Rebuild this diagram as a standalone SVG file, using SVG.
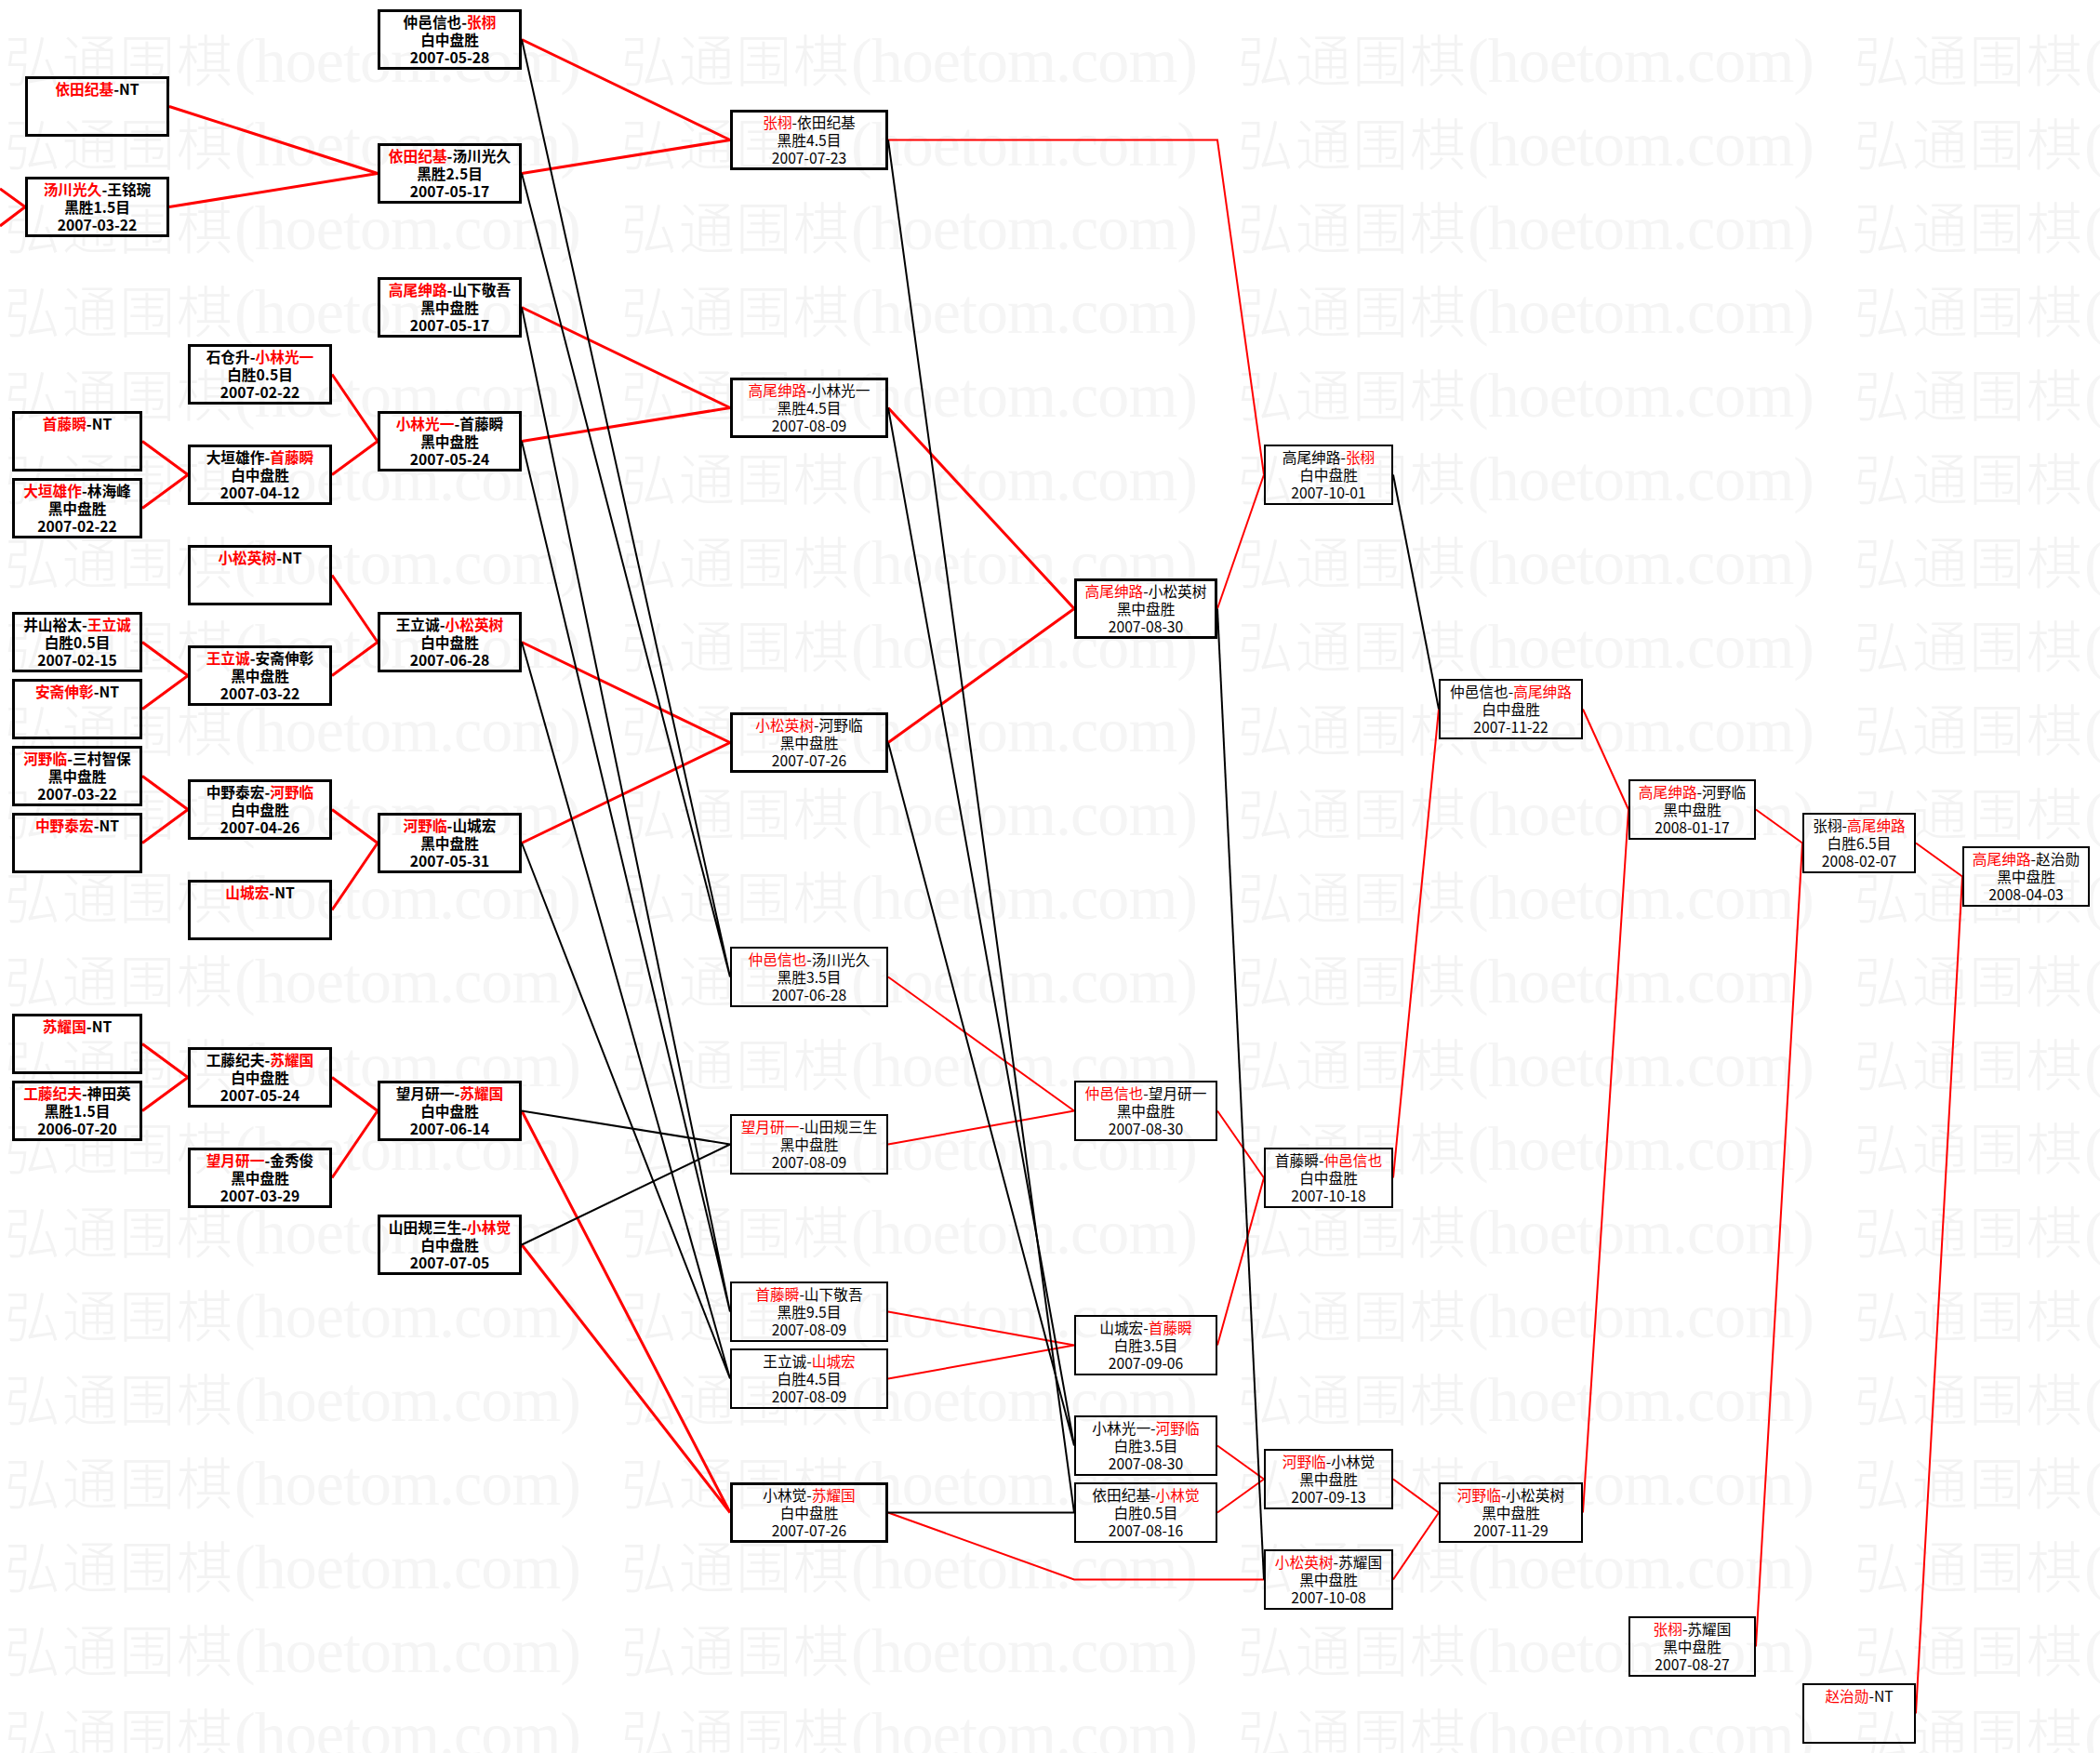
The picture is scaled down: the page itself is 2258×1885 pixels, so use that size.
<svg xmlns="http://www.w3.org/2000/svg" width="2258" height="1885" viewBox="0 0 2258 1885">
<defs>
<style>
.n rect{fill:none;stroke:#000}
.k3{stroke-width:3}
.k2{stroke-width:2}
.n text{font-family:"Noto Sans CJK SC","Noto Sans",sans-serif;font-size:15.7px;text-anchor:middle;fill:#000}
.bd text{font-weight:bold}
.r{fill:#ff0000}
.c path{fill:none;stroke-linejoin:miter}
.cr3{stroke:#ff0000;stroke-width:3}
.cr2{stroke:#ff0000;stroke-width:2}
.cb2{stroke:#000;stroke-width:2}
.wm{fill:#f3f3f3}
.wa{fill:#f5f5f5}
</style>
<pattern id="wmp" patternUnits="userSpaceOnUse" x="5" y="28" width="663" height="90">
<text class="wm" x="0" y="60" font-family="'Noto Sans CJK SC',sans-serif" font-weight="300" font-size="60" textLength="245" lengthAdjust="spacing">弘通围棋</text>
<text class="wa" x="247" y="60" font-family="'Liberation Serif',serif" font-size="68" textLength="373" lengthAdjust="spacing">(hoetom.com)</text>
</pattern>
</defs>
<rect x="0" y="0" width="2258" height="1885" fill="#fff"/>
<rect id="watermark" x="0" y="28" width="2258" height="1857" fill="url(#wmp)"/>

<g id="connectors" class="c">
<path class="cr3" d="M0,203L27,222.5M0,243L27,222.5"/>
<path class="cr3" d="M153,474.5L202,510.5M153,546.5L202,510.5"/>
<path class="cr3" d="M357,402.5L406,474.5M357,510.5L406,474.5"/>
<path class="cr3" d="M182,114.5L406,186.5M182,222.5L406,186.5"/>
<path class="cr3" d="M153,690.5L202,726.5M153,762.5L202,726.5"/>
<path class="cr3" d="M357,618.5L406,690.5M357,726.5L406,690.5"/>
<path class="cr3" d="M153,834.5L202,870.5M153,906.5L202,870.5"/>
<path class="cr3" d="M357,870.5L406,906.5M357,978.5L406,906.5"/>
<path class="cr3" d="M153,1122.5L202,1158.5M153,1194.5L202,1158.5"/>
<path class="cr3" d="M357,1158.5L406,1194.5M357,1266.5L406,1194.5"/>
<path class="cr3" d="M561,42.5L785,150.5M561,186.5L785,150.5"/>
<path class="cr3" d="M561,330.5L785,438.5M561,474.5L785,438.5"/>
<path class="cr3" d="M561,690.5L785,798.5M561,906.5L785,798.5"/>
<path class="cr3" d="M561,1194.5L785,1626.5M561,1338.5L785,1626.5"/>
<path class="cr3" d="M955,438.5L1155,654.5M955,798.5L1155,654.5"/>
<path class="cr2" d="M955,150.5L1309,150.5L1359,510.5"/>
<path class="cr2" d="M955,1050.5L1155,1194.5M955,1230.5L1155,1194.5"/>
<path class="cr2" d="M955,1410.5L1155,1446.5M955,1482.5L1155,1446.5"/>
<path class="cr2" d="M955,1626.5L1155,1698.5L1359,1698.5"/>
<path class="cr2" d="M1309,654.5L1359,510.5"/>
<path class="cr2" d="M1309,1194.5L1359,1266.5M1309,1446.5L1359,1266.5"/>
<path class="cr2" d="M1309,1554.5L1359,1590.5M1309,1626.5L1359,1590.5"/>
<path class="cr2" d="M1498,1266.5L1547,762.5"/>
<path class="cr2" d="M1498,1590.5L1547,1626.5M1498,1698.5L1547,1626.5"/>
<path class="cr2" d="M1702,762.5L1751,870.5M1702,1626.5L1751,870.5"/>
<path class="cr2" d="M1888,870.5L1938,906.5M1888,1770.5L1938,906.5"/>
<path class="cr2" d="M2060,906.5L2110,942.5M2060,1842.5L2110,942.5"/>
<path class="cb2" d="M561,42.5L785,1050.5M561,186.5L785,1050.5"/>
<path class="cb2" d="M561,330.5L785,1410.5M561,474.5L785,1410.5"/>
<path class="cb2" d="M561,690.5L785,1482.5M561,906.5L785,1482.5"/>
<path class="cb2" d="M561,1194.5L785,1230.5M561,1338.5L785,1230.5"/>
<path class="cb2" d="M955,150.5L1155,1626.5M955,1626.5L1155,1626.5"/>
<path class="cb2" d="M955,438.5L1155,1554.5M955,798.5L1155,1554.5"/>
<path class="cb2" d="M1309,654.5L1359,1698.5"/>
<path class="cb2" d="M1498,510.5L1547,762.5"/>
</g>

<g id="n1" class="n bd"><rect class="k3" x="28.5" y="83.5" width="152" height="62"/><text x="104.5" y="102"><tspan class="r">依田纪基</tspan>-NT</text></g>
<g id="n2" class="n bd"><rect class="k3" x="28.5" y="191.5" width="152" height="62"/><text x="104.5" y="210"><tspan class="r">汤川光久</tspan>-王铭琬</text><text x="104.5" y="229">黑胜1.5目</text><text x="104.5" y="248">2007-03-22</text></g>
<g id="n3" class="n bd"><rect class="k3" x="14.5" y="443.5" width="137" height="62"/><text x="83" y="462"><tspan class="r">首藤瞬</tspan>-NT</text></g>
<g id="n4" class="n bd"><rect class="k3" x="14.5" y="515.5" width="137" height="62"/><text x="83" y="534"><tspan class="r">大垣雄作</tspan>-林海峰</text><text x="83" y="553">黑中盘胜</text><text x="83" y="572">2007-02-22</text></g>
<g id="n5" class="n bd"><rect class="k3" x="14.5" y="659.5" width="137" height="62"/><text x="83" y="678">井山裕太-<tspan class="r">王立诚</tspan></text><text x="83" y="697">白胜0.5目</text><text x="83" y="716">2007-02-15</text></g>
<g id="n6" class="n bd"><rect class="k3" x="14.5" y="731.5" width="137" height="62"/><text x="83" y="750"><tspan class="r">安斋伸彰</tspan>-NT</text></g>
<g id="n7" class="n bd"><rect class="k3" x="14.5" y="803.5" width="137" height="62"/><text x="83" y="822"><tspan class="r">河野临</tspan>-三村智保</text><text x="83" y="841">黑中盘胜</text><text x="83" y="860">2007-03-22</text></g>
<g id="n8" class="n bd"><rect class="k3" x="14.5" y="875.5" width="137" height="62"/><text x="83" y="894"><tspan class="r">中野泰宏</tspan>-NT</text></g>
<g id="n9" class="n bd"><rect class="k3" x="14.5" y="1091.5" width="137" height="62"/><text x="83" y="1110"><tspan class="r">苏耀国</tspan>-NT</text></g>
<g id="n10" class="n bd"><rect class="k3" x="14.5" y="1163.5" width="137" height="62"/><text x="83" y="1182"><tspan class="r">工藤纪夫</tspan>-神田英</text><text x="83" y="1201">黑胜1.5目</text><text x="83" y="1220">2006-07-20</text></g>

<g id="n11" class="n bd"><rect class="k3" x="203.5" y="371.5" width="152" height="62"/><text x="279.5" y="390">石仓升-<tspan class="r">小林光一</tspan></text><text x="279.5" y="409">白胜0.5目</text><text x="279.5" y="428">2007-02-22</text></g>
<g id="n12" class="n bd"><rect class="k3" x="203.5" y="479.5" width="152" height="62"/><text x="279.5" y="498">大垣雄作-<tspan class="r">首藤瞬</tspan></text><text x="279.5" y="517">白中盘胜</text><text x="279.5" y="536">2007-04-12</text></g>
<g id="n13" class="n bd"><rect class="k3" x="203.5" y="587.5" width="152" height="62"/><text x="279.5" y="606"><tspan class="r">小松英树</tspan>-NT</text></g>
<g id="n14" class="n bd"><rect class="k3" x="203.5" y="695.5" width="152" height="62"/><text x="279.5" y="714"><tspan class="r">王立诚</tspan>-安斋伸彰</text><text x="279.5" y="733">黑中盘胜</text><text x="279.5" y="752">2007-03-22</text></g>
<g id="n15" class="n bd"><rect class="k3" x="203.5" y="839.5" width="152" height="62"/><text x="279.5" y="858">中野泰宏-<tspan class="r">河野临</tspan></text><text x="279.5" y="877">白中盘胜</text><text x="279.5" y="896">2007-04-26</text></g>
<g id="n16" class="n bd"><rect class="k3" x="203.5" y="947.5" width="152" height="62"/><text x="279.5" y="966"><tspan class="r">山城宏</tspan>-NT</text></g>
<g id="n17" class="n bd"><rect class="k3" x="203.5" y="1127.5" width="152" height="62"/><text x="279.5" y="1146">工藤纪夫-<tspan class="r">苏耀国</tspan></text><text x="279.5" y="1165">白中盘胜</text><text x="279.5" y="1184">2007-05-24</text></g>
<g id="n18" class="n bd"><rect class="k3" x="203.5" y="1235.5" width="152" height="62"/><text x="279.5" y="1254"><tspan class="r">望月研一</tspan>-金秀俊</text><text x="279.5" y="1273">黑中盘胜</text><text x="279.5" y="1292">2007-03-29</text></g>

<g id="n19" class="n bd"><rect class="k3" x="407.5" y="11.5" width="152" height="62"/><text x="483.5" y="30">仲邑信也-<tspan class="r">张栩</tspan></text><text x="483.5" y="49">白中盘胜</text><text x="483.5" y="68">2007-05-28</text></g>
<g id="n20" class="n bd"><rect class="k3" x="407.5" y="155.5" width="152" height="62"/><text x="483.5" y="174"><tspan class="r">依田纪基</tspan>-汤川光久</text><text x="483.5" y="193">黑胜2.5目</text><text x="483.5" y="212">2007-05-17</text></g>
<g id="n21" class="n bd"><rect class="k3" x="407.5" y="299.5" width="152" height="62"/><text x="483.5" y="318"><tspan class="r">高尾绅路</tspan>-山下敬吾</text><text x="483.5" y="337">黑中盘胜</text><text x="483.5" y="356">2007-05-17</text></g>
<g id="n22" class="n bd"><rect class="k3" x="407.5" y="443.5" width="152" height="62"/><text x="483.5" y="462"><tspan class="r">小林光一</tspan>-首藤瞬</text><text x="483.5" y="481">黑中盘胜</text><text x="483.5" y="500">2007-05-24</text></g>
<g id="n23" class="n bd"><rect class="k3" x="407.5" y="659.5" width="152" height="62"/><text x="483.5" y="678">王立诚-<tspan class="r">小松英树</tspan></text><text x="483.5" y="697">白中盘胜</text><text x="483.5" y="716">2007-06-28</text></g>
<g id="n24" class="n bd"><rect class="k3" x="407.5" y="875.5" width="152" height="62"/><text x="483.5" y="894"><tspan class="r">河野临</tspan>-山城宏</text><text x="483.5" y="913">黑中盘胜</text><text x="483.5" y="932">2007-05-31</text></g>
<g id="n25" class="n bd"><rect class="k3" x="407.5" y="1163.5" width="152" height="62"/><text x="483.5" y="1182">望月研一-<tspan class="r">苏耀国</tspan></text><text x="483.5" y="1201">白中盘胜</text><text x="483.5" y="1220">2007-06-14</text></g>
<g id="n26" class="n bd"><rect class="k3" x="407.5" y="1307.5" width="152" height="62"/><text x="483.5" y="1326">山田规三生-<tspan class="r">小林觉</tspan></text><text x="483.5" y="1345">白中盘胜</text><text x="483.5" y="1364">2007-07-05</text></g>

<g id="n27" class="n"><rect class="k3" x="786.5" y="119.5" width="167" height="62"/><text x="870" y="138"><tspan class="r">张栩</tspan>-依田纪基</text><text x="870" y="157">黑胜4.5目</text><text x="870" y="176">2007-07-23</text></g>
<g id="n28" class="n"><rect class="k3" x="786.5" y="407.5" width="167" height="62"/><text x="870" y="426"><tspan class="r">高尾绅路</tspan>-小林光一</text><text x="870" y="445">黑胜4.5目</text><text x="870" y="464">2007-08-09</text></g>
<g id="n29" class="n"><rect class="k3" x="786.5" y="767.5" width="167" height="62"/><text x="870" y="786"><tspan class="r">小松英树</tspan>-河野临</text><text x="870" y="805">黑中盘胜</text><text x="870" y="824">2007-07-26</text></g>
<g id="n30" class="n"><rect class="k2" x="786" y="1019" width="168" height="63"/><text x="870" y="1038"><tspan class="r">仲邑信也</tspan>-汤川光久</text><text x="870" y="1057">黑胜3.5目</text><text x="870" y="1076">2007-06-28</text></g>
<g id="n31" class="n"><rect class="k2" x="786" y="1199" width="168" height="63"/><text x="870" y="1218"><tspan class="r">望月研一</tspan>-山田规三生</text><text x="870" y="1237">黑中盘胜</text><text x="870" y="1256">2007-08-09</text></g>
<g id="n32" class="n"><rect class="k2" x="786" y="1379" width="168" height="63"/><text x="870" y="1398"><tspan class="r">首藤瞬</tspan>-山下敬吾</text><text x="870" y="1417">黑胜9.5目</text><text x="870" y="1436">2007-08-09</text></g>
<g id="n33" class="n"><rect class="k2" x="786" y="1451" width="168" height="63"/><text x="870" y="1470">王立诚-<tspan class="r">山城宏</tspan></text><text x="870" y="1489">白胜4.5目</text><text x="870" y="1508">2007-08-09</text></g>
<g id="n34" class="n"><rect class="k3" x="786.5" y="1595.5" width="167" height="62"/><text x="870" y="1614">小林觉-<tspan class="r">苏耀国</tspan></text><text x="870" y="1633">白中盘胜</text><text x="870" y="1652">2007-07-26</text></g>

<g id="n35" class="n"><rect class="k3" x="1156.5" y="623.5" width="151" height="62"/><text x="1232" y="642"><tspan class="r">高尾绅路</tspan>-小松英树</text><text x="1232" y="661">黑中盘胜</text><text x="1232" y="680">2007-08-30</text></g>
<g id="n36" class="n"><rect class="k2" x="1156" y="1163" width="152" height="63"/><text x="1232" y="1182"><tspan class="r">仲邑信也</tspan>-望月研一</text><text x="1232" y="1201">黑中盘胜</text><text x="1232" y="1220">2007-08-30</text></g>
<g id="n37" class="n"><rect class="k2" x="1156" y="1415" width="152" height="63"/><text x="1232" y="1434">山城宏-<tspan class="r">首藤瞬</tspan></text><text x="1232" y="1453">白胜3.5目</text><text x="1232" y="1472">2007-09-06</text></g>
<g id="n38" class="n"><rect class="k2" x="1156" y="1523" width="152" height="63"/><text x="1232" y="1542">小林光一-<tspan class="r">河野临</tspan></text><text x="1232" y="1561">白胜3.5目</text><text x="1232" y="1580">2007-08-30</text></g>
<g id="n39" class="n"><rect class="k2" x="1156" y="1595" width="152" height="63"/><text x="1232" y="1614">依田纪基-<tspan class="r">小林觉</tspan></text><text x="1232" y="1633">白胜0.5目</text><text x="1232" y="1652">2007-08-16</text></g>

<g id="n40" class="n"><rect class="k2" x="1360" y="479" width="137" height="63"/><text x="1428.5" y="498">高尾绅路-<tspan class="r">张栩</tspan></text><text x="1428.5" y="517">白中盘胜</text><text x="1428.5" y="536">2007-10-01</text></g>
<g id="n41" class="n"><rect class="k2" x="1360" y="1235" width="137" height="63"/><text x="1428.5" y="1254">首藤瞬-<tspan class="r">仲邑信也</tspan></text><text x="1428.5" y="1273">白中盘胜</text><text x="1428.5" y="1292">2007-10-18</text></g>
<g id="n42" class="n"><rect class="k2" x="1360" y="1559" width="137" height="63"/><text x="1428.5" y="1578"><tspan class="r">河野临</tspan>-小林觉</text><text x="1428.5" y="1597">黑中盘胜</text><text x="1428.5" y="1616">2007-09-13</text></g>
<g id="n43" class="n"><rect class="k2" x="1360" y="1667" width="137" height="63"/><text x="1428.5" y="1686"><tspan class="r">小松英树</tspan>-苏耀国</text><text x="1428.5" y="1705">黑中盘胜</text><text x="1428.5" y="1724">2007-10-08</text></g>

<g id="n44" class="n"><rect class="k2" x="1548" y="731" width="153" height="63"/><text x="1624.5" y="750">仲邑信也-<tspan class="r">高尾绅路</tspan></text><text x="1624.5" y="769">白中盘胜</text><text x="1624.5" y="788">2007-11-22</text></g>
<g id="n45" class="n"><rect class="k2" x="1548" y="1595" width="153" height="63"/><text x="1624.5" y="1614"><tspan class="r">河野临</tspan>-小松英树</text><text x="1624.5" y="1633">黑中盘胜</text><text x="1624.5" y="1652">2007-11-29</text></g>

<g id="n46" class="n"><rect class="k2" x="1752" y="839" width="135" height="63"/><text x="1819.5" y="858"><tspan class="r">高尾绅路</tspan>-河野临</text><text x="1819.5" y="877">黑中盘胜</text><text x="1819.5" y="896">2008-01-17</text></g>
<g id="n47" class="n"><rect class="k2" x="1752" y="1739" width="135" height="63"/><text x="1819.5" y="1758"><tspan class="r">张栩</tspan>-苏耀国</text><text x="1819.5" y="1777">黑中盘胜</text><text x="1819.5" y="1796">2007-08-27</text></g>

<g id="n48" class="n"><rect class="k2" x="1939" y="875" width="120" height="63"/><text x="1999" y="894">张栩-<tspan class="r">高尾绅路</tspan></text><text x="1999" y="913">白胜6.5目</text><text x="1999" y="932">2008-02-07</text></g>
<g id="n49" class="n"><rect class="k2" x="1939" y="1811" width="120" height="63"/><text x="1999" y="1830"><tspan class="r">赵治勋</tspan>-NT</text></g>

<g id="n50" class="n"><rect class="k2" x="2111" y="911" width="135" height="63"/><text x="2178.5" y="930"><tspan class="r">高尾绅路</tspan>-赵治勋</text><text x="2178.5" y="949">黑中盘胜</text><text x="2178.5" y="968">2008-04-03</text></g>
</svg>
